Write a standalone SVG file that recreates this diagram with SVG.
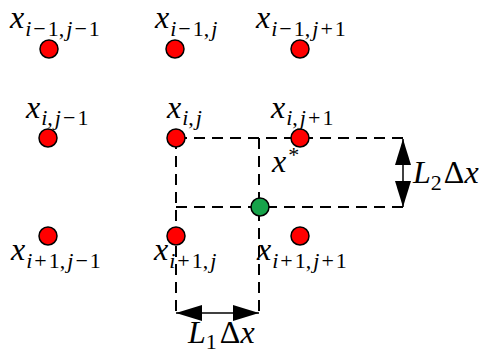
<svg xmlns="http://www.w3.org/2000/svg" width="483" height="354" viewBox="0 0 483 354">
<defs>
<style>
.bg{fill:#fff}
.red{fill:#ff0000;stroke:#000;stroke-width:1.5}
.green{fill:#16a34a;stroke:#000;stroke-width:1.5}
.dash{fill:none;stroke:#000;stroke-width:2;stroke-dasharray:11 7}
.dim{fill:none;stroke:#000;stroke-width:1.5}
text{font-family:"Liberation Serif","Times New Roman",serif;fill:#000}
.v{font-size:32px;font-style:italic}
.u{font-size:32px;font-style:normal}
.s{font-size:22px}
.i{font-style:italic}
</style>
<marker id="ah" viewBox="0 0 26 16" refX="26" refY="8" markerWidth="26" markerHeight="16" markerUnits="userSpaceOnUse" orient="auto-start-reverse">
<path d="M0,0 L26,8 L0,16 Z" fill="#000"/>
</marker>
</defs>
<rect class="bg" x="0" y="0" width="483" height="354"/>
<g id="connectors">
<path class="dash" d="M176,138 H403"/>
<path class="dash" d="M176,207 H403"/>
<path class="dash" d="M176,138 V313"/>
<path class="dash" d="M259,138 V313"/>
<line class="dim" x1="403" y1="139" x2="403" y2="207" marker-start="url(#ah)" marker-end="url(#ah)"/>
<line class="dim" x1="176" y1="313" x2="259" y2="313" marker-start="url(#ah)" marker-end="url(#ah)"/>
</g>
<g id="n-im1-jm1"><circle class="red" cx="49" cy="49" r="9"/>
<text x="10" y="28"><tspan class="v">x</tspan><tspan class="s" y="36" dx="1"><tspan class="i">i</tspan><tspan dx="2">−</tspan><tspan dx="2">1,</tspan><tspan class="i" dx="2">j</tspan><tspan dx="2">−</tspan><tspan dx="2">1</tspan></tspan></text></g>
<g id="n-im1-j"><circle class="red" cx="175" cy="49" r="9"/>
<text x="155" y="28"><tspan class="v">x</tspan><tspan class="s" y="36" dx="1"><tspan class="i">i</tspan><tspan dx="2">−</tspan><tspan dx="2">1,</tspan><tspan class="i" dx="2">j</tspan></tspan></text></g>
<g id="n-im1-jp1"><circle class="red" cx="300" cy="49" r="9"/>
<text x="256" y="28"><tspan class="v">x</tspan><tspan class="s" y="36" dx="1"><tspan class="i">i</tspan><tspan dx="2">−</tspan><tspan dx="2">1,</tspan><tspan class="i" dx="2">j</tspan><tspan dx="2">+</tspan><tspan dx="2">1</tspan></tspan></text></g>
<g id="n-i-jm1"><circle class="red" cx="48" cy="138" r="9"/>
<text x="26" y="118"><tspan class="v">x</tspan><tspan class="s" y="125" dx="1"><tspan class="i">i</tspan><tspan>,</tspan><tspan class="i" dx="2">j</tspan><tspan dx="2">−</tspan><tspan dx="2">1</tspan></tspan></text></g>
<g id="n-i-j"><circle class="red" cx="176" cy="138" r="9"/>
<text x="167" y="118"><tspan class="v">x</tspan><tspan class="s" y="125" dx="1"><tspan class="i">i</tspan><tspan>,</tspan><tspan class="i" dx="2">j</tspan></tspan></text></g>
<g id="n-i-jp1"><circle class="red" cx="300" cy="138" r="9"/>
<text x="271" y="118"><tspan class="v">x</tspan><tspan class="s" y="125" dx="1"><tspan class="i">i</tspan><tspan>,</tspan><tspan class="i" dx="2">j</tspan><tspan dx="2">+</tspan><tspan dx="2">1</tspan></tspan></text></g>
<g id="n-ip1-jm1"><circle class="red" cx="48" cy="236" r="9"/>
<text x="11" y="260"><tspan class="v">x</tspan><tspan class="s" y="268" dx="1"><tspan class="i">i</tspan><tspan dx="2">+</tspan><tspan dx="2">1,</tspan><tspan class="i" dx="2">j</tspan><tspan dx="2">−</tspan><tspan dx="2">1</tspan></tspan></text></g>
<g id="n-ip1-j"><circle class="red" cx="176" cy="236" r="9"/>
<text x="154" y="260"><tspan class="v">x</tspan><tspan class="s" y="268" dx="1"><tspan class="i">i</tspan><tspan dx="2">+</tspan><tspan dx="2">1,</tspan><tspan class="i" dx="2">j</tspan></tspan></text></g>
<g id="n-ip1-jp1"><circle class="red" cx="300" cy="236" r="9"/>
<text x="257" y="260"><tspan class="v">x</tspan><tspan class="s" y="268" dx="1"><tspan class="i">i</tspan><tspan dx="2">+</tspan><tspan dx="2">1,</tspan><tspan class="i" dx="2">j</tspan><tspan dx="2">+</tspan><tspan dx="2">1</tspan></tspan></text></g>
<g id="n-xstar"><circle class="green" cx="260" cy="207" r="9"/>
<text x="272" y="172"><tspan class="v">x</tspan><tspan class="s" y="162" dx="2" font-size="18">*</tspan></text></g>
<g id="lbl-L2"><text x="413" y="183"><tspan class="v">L</tspan><tspan class="s" y="190">2</tspan><tspan class="u" y="183" dx="2">Δ</tspan><tspan class="v">x</tspan></text></g>
<g id="lbl-L1"><text x="188" y="343"><tspan class="v">L</tspan><tspan class="s" y="349">1</tspan><tspan class="u" y="343" dx="3">Δ</tspan><tspan class="v">x</tspan></text></g>
</svg>
